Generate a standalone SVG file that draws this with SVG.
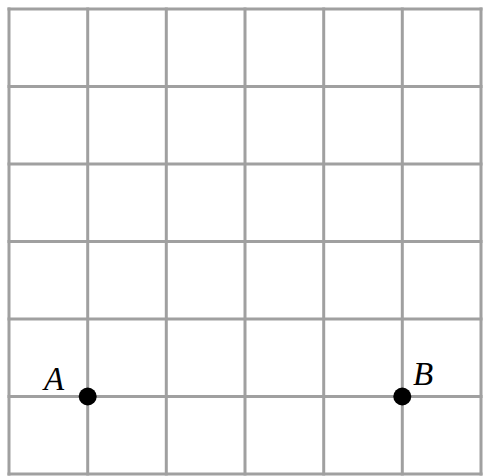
<svg xmlns="http://www.w3.org/2000/svg" width="483" height="476" viewBox="0 0 483 476">
<style>
.g line{stroke:#a0a0a0;stroke-width:3}
.lbl{font-family:"Liberation Serif","Times New Roman",serif;font-style:italic;font-size:33px;fill:#000}
</style>
<rect width="483" height="476" fill="#fff"/>
<g class="g" id="grid">
<line x1="9" y1="7.5" x2="9" y2="475.5"/>
<line x1="87.7" y1="7.5" x2="87.7" y2="475.5"/>
<line x1="166.3" y1="7.5" x2="166.3" y2="475.5"/>
<line x1="245" y1="7.5" x2="245" y2="475.5"/>
<line x1="323.7" y1="7.5" x2="323.7" y2="475.5"/>
<line x1="402.3" y1="7.5" x2="402.3" y2="475.5"/>
<line x1="481" y1="7.5" x2="481" y2="475.5"/>
<line x1="7.5" y1="9" x2="482.5" y2="9"/>
<line x1="7.5" y1="86.5" x2="482.5" y2="86.5"/>
<line x1="7.5" y1="164" x2="482.5" y2="164"/>
<line x1="7.5" y1="241.5" x2="482.5" y2="241.5"/>
<line x1="7.5" y1="319" x2="482.5" y2="319"/>
<line x1="7.5" y1="396.5" x2="482.5" y2="396.5"/>
<line x1="7.5" y1="474" x2="482.5" y2="474"/>
</g>
<g id="A">
<circle cx="87.7" cy="396.5" r="9" fill="#000"/>
<text class="lbl" x="44" y="390">A</text>
</g>
<g id="B">
<circle cx="402.3" cy="396.5" r="9" fill="#000"/>
<text class="lbl" x="413" y="385">B</text>
</g>
</svg>
